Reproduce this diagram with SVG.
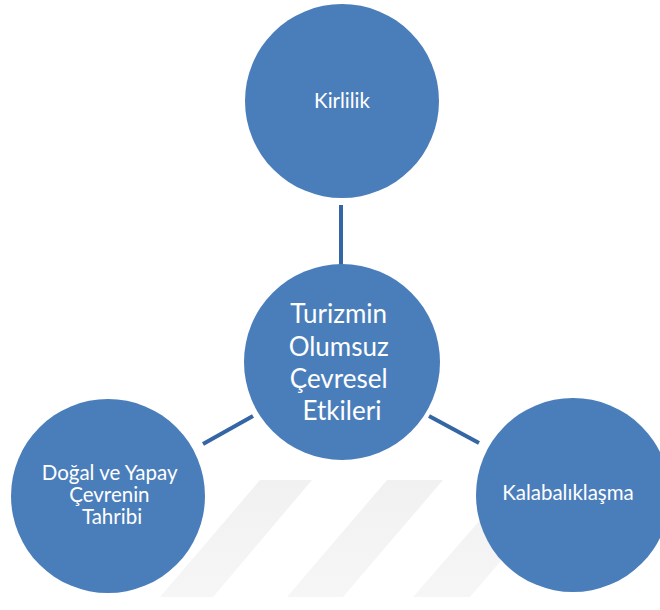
<svg xmlns="http://www.w3.org/2000/svg" width="660" height="610" viewBox="0 0 660 610">
  <style>
    .node { fill: #4a7ebb; }
    .conn { stroke: #3465a4; stroke-width: 4; fill: none; }
    .lbl { fill: #ffffff; font-family: Lato, "Open Sans", "Liberation Sans", sans-serif; text-anchor: middle; }
    .sm { font-size: 20.5px; }
    .wm { fill: url(#wmfade); }
  </style>
  <defs>
    <linearGradient id="wmfade" x1="0" y1="0" x2="0" y2="1">
      <stop offset="0" stop-color="#f1f1f1"/>
      <stop offset="1" stop-color="#f6f6f6"/>
    </linearGradient>
  </defs>
  <rect width="660" height="610" fill="#ffffff"/>
  <g id="watermark">
    <polygon class="wm" points="260,480 312,480 213,597 160,597"/>
    <polygon class="wm" points="387,480 443,480 343,597 287,597"/>
    <polygon class="wm" points="515,480 570,480 470,597 413,597"/>
  </g>
  <g id="connectors">
    <line class="conn" x1="341" y1="205" x2="341" y2="265"/>
    <line class="conn" x1="203" y1="444" x2="253" y2="416"/>
    <line class="conn" x1="429" y1="416" x2="479" y2="443"/>
  </g>
  <g id="kirlilik">
    <circle class="node" cx="342" cy="101" r="97"/>
    <text class="lbl sm" x="342" y="108">Kirlilik</text>
  </g>
  <g id="center">
    <circle class="node" cx="342" cy="362" r="98"/>
    <text class="lbl" font-size="26">
      <tspan x="342" y="323">Turizmin</tspan>
      <tspan x="342" y="356">Olumsuz</tspan>
      <tspan x="342" y="388">Çevresel</tspan>
      <tspan x="342" y="420">Etkileri</tspan>
    </text>
  </g>
  <g id="dogal">
    <circle class="node" cx="108" cy="496" r="97"/>
    <text class="lbl sm">
      <tspan x="112" y="480">Doğal ve Yapay</tspan>
      <tspan x="112" y="502">Çevrenin</tspan>
      <tspan x="112" y="524">Tahribi</tspan>
    </text>
  </g>
  <g id="kalabalik">
    <circle class="node" cx="573" cy="495" r="97"/>
    <text class="lbl sm" x="568" y="500">Kalabalıklaşma</text>
  </g>
</svg>
